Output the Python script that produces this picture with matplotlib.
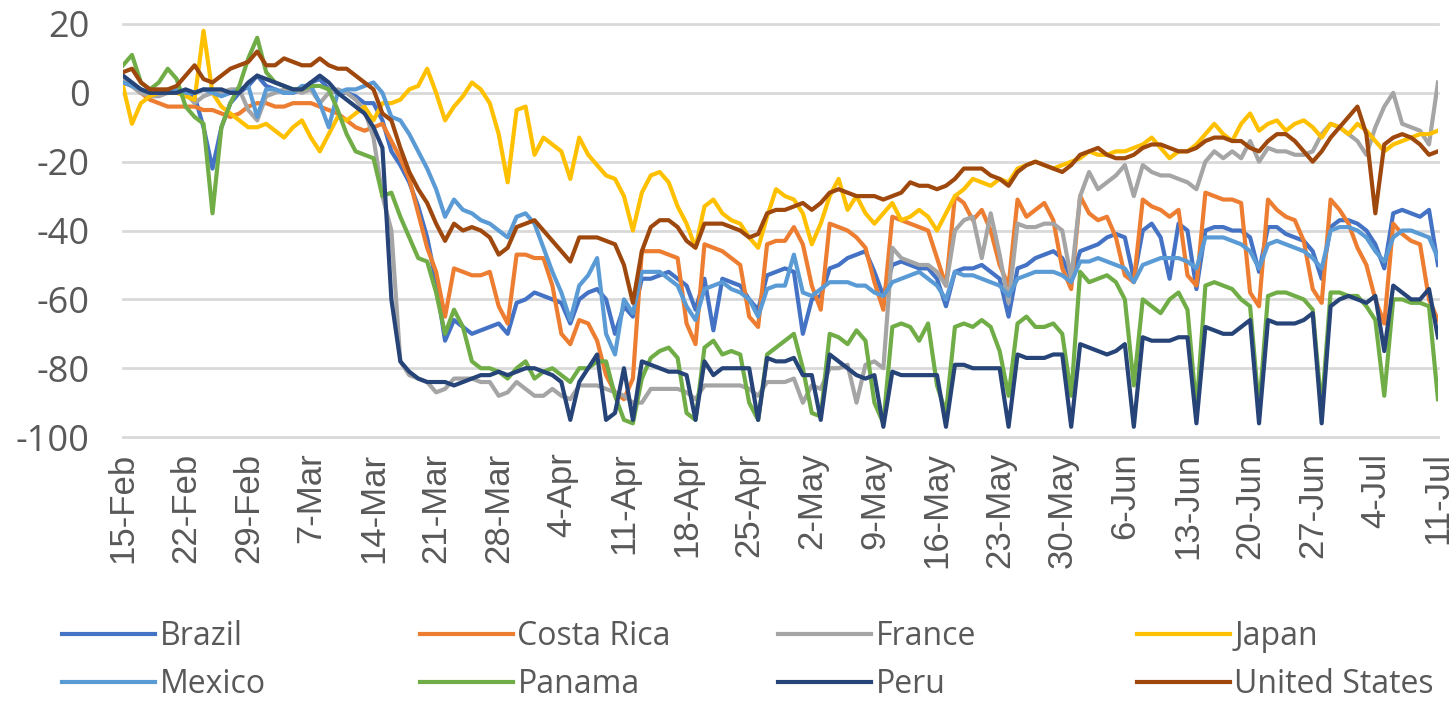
import matplotlib
matplotlib.use("Agg")
import matplotlib.pyplot as plt
from matplotlib import font_manager
from matplotlib.lines import Line2D
import pandas as pd

# narrow face for the Excel-like look, fall back if missing
avail = {f.name for f in font_manager.fontManager.ttflist}
NARROW = next(f for f in ["Liberation Sans Narrow", "Open Sans", "DejaVu Sans"] if f in avail)
REGULAR = next(f for f in ["Liberation Sans", "DejaVu Sans"] if f in avail)
plt.rcParams["font.family"] = NARROW
plt.rcParams["axes.unicode_minus"] = False

# ── data: daily values, 15-Feb .. 11-Jul 2020 (one row = one week, Sat..Fri) ──
dates = pd.date_range("2020-02-15", "2020-07-11", freq="D")

brazil = [
    4, 2, 0, 0, 0, 0, 1,
    0, -1, -10, -22, -10, -3, 0,
    2, 5, 2, 1, 0, 0, 1,
    3, 4, 1, 0, 0, -1, -3,
    -3, -8, -17, -21, -26, -33, -42,
    -55, -72, -66, -68, -70, -69, -68,
    -67, -70, -61, -60, -58, -59, -60,
    -61, -67, -60, -58, -57, -60, -70,
    -62, -65, -54, -54, -53, -52, -54,
    -56, -63, -54, -69, -54, -55, -56,
    -60, -63, -53, -52, -51, -52, -70,
    -60, -59, -51, -50, -48, -47, -46,
    -52, -59, -50, -49, -50, -51, -51,
    -54, -62, -52, -51, -51, -50, -52,
    -54, -65, -51, -50, -48, -47, -46,
    -48, -54, -46, -45, -44, -42, -41,
    -42, -54, -40, -38, -42, -54, -38,
    -40, -57, -40, -39, -39, -40, -40,
    -42, -52, -39, -39, -41, -42, -43,
    -46, -54, -39, -37, -37, -38, -40,
    -44, -51, -35, -34, -35, -36, -34,
    -50,
]
costa_rica = [
    3, 2, 0, -2, -3, -4, -4,
    -4, -4, -5, -5, -6, -7, -6,
    -4, -3, -3, -4, -4, -3, -3,
    -3, -4, -5, -6, -8, -10, -11,
    -10, -9, -14, -19, -25, -35, -45,
    -52, -65, -51, -52, -53, -53, -52,
    -62, -67, -47, -47, -48, -48, -56,
    -70, -73, -66, -67, -72, -82, -87,
    -89, -83, -46, -46, -46, -47, -48,
    -67, -73, -44, -45, -46, -48, -50,
    -65, -68, -44, -43, -43, -39, -44,
    -56, -63, -38, -39, -40, -42, -45,
    -55, -63, -36, -37, -38, -39, -40,
    -48, -56, -30, -32, -37, -34, -40,
    -50, -56, -31, -36, -34, -32, -37,
    -51, -57, -30, -35, -37, -36, -42,
    -53, -55, -31, -33, -34, -36, -34,
    -53, -56, -29, -30, -31, -31, -32,
    -58, -62, -31, -34, -36, -37, -43,
    -57, -61, -31, -34, -38, -45, -50,
    -60, -67, -38, -41, -43, -44, -60,
    -66,
]
france = [
    4, 2, 0, -1, -1, 0, 1,
    0, -3, -1, 0, 0, 1, 1,
    -5, -8, -1, 0, 1, 1, 0,
    1, -3, 0, 1, 0, -2, -5,
    -13, -30, -40, -78, -82, -83, -84,
    -87, -86, -83, -83, -83, -84, -84,
    -88, -87, -84, -86, -88, -88, -86,
    -88, -89, -85, -85, -85, -86, -87,
    -88, -90, -90, -86, -86, -86, -86,
    -87, -89, -85, -85, -85, -85, -85,
    -86, -88, -84, -84, -84, -83, -90,
    -85, -86, -80, -80, -79, -90, -79,
    -78, -80, -45, -48, -49, -50, -50,
    -52, -56, -40, -37, -36, -48, -35,
    -47, -61, -38, -39, -39, -38, -38,
    -40, -54, -30, -23, -28, -26, -24,
    -21, -30, -21, -23, -24, -24, -25,
    -26, -28, -20, -17, -19, -17, -19,
    -14, -20, -16, -17, -17, -18, -18,
    -17, -12, -9, -10, -12, -14, -18,
    -10, -4, 0, -9, -10, -11, -15,
    3,
]
japan = [
    2, -9, -3, -1, 0, 0, 0,
    -1, -2, 18, 0, -4, -6, -8,
    -10, -10, -9, -11, -13, -10, -8,
    -13, -17, -12, -7, -8, -6, -4,
    -8, -3, -3, -2, 1, 2, 7,
    0, -8, -4, -1, 3, 1, -3,
    -12, -26, -5, -4, -18, -13, -15,
    -17, -25, -13, -18, -21, -24, -25,
    -30, -40, -29, -24, -23, -26, -33,
    -38, -45, -33, -31, -35, -37, -38,
    -42, -45, -36, -28, -30, -31, -35,
    -44, -38, -30, -25, -34, -30, -35,
    -38, -35, -32, -37, -36, -34, -36,
    -40, -35, -30, -28, -25, -26, -27,
    -25, -26, -22, -21, -20, -21, -22,
    -21, -20, -19, -17, -18, -18, -17,
    -17, -16, -15, -13, -16, -19, -17,
    -17, -15, -12, -9, -12, -14, -9,
    -6, -11, -9, -8, -11, -9, -8,
    -10, -13, -9, -10, -12, -9, -11,
    -14, -17, -15, -14, -13, -12, -12,
    -11,
]
mexico = [
    3, 2, 1, 0, 0, 1, 1,
    0, 0, 1, 0, -1, 0, 1,
    2, -7, 1, 1, 0, 0, 2,
    2, -3, -10, 0, 1, 1, 2,
    3, 0, -7, -8, -12, -17, -22,
    -28, -36, -31, -34, -35, -37, -38,
    -40, -42, -36, -35, -38, -45, -52,
    -58, -66, -56, -53, -48, -70, -76,
    -60, -64, -52, -52, -52, -54, -56,
    -62, -66, -57, -56, -55, -57, -58,
    -60, -65, -57, -56, -56, -47, -58,
    -59, -57, -55, -55, -55, -56, -56,
    -58, -59, -55, -54, -53, -52, -54,
    -56, -60, -52, -53, -53, -54, -55,
    -56, -59, -54, -53, -52, -52, -52,
    -53, -55, -49, -49, -48, -49, -50,
    -51, -55, -50, -49, -48, -48, -48,
    -49, -51, -42, -42, -42, -43, -44,
    -46, -51, -44, -43, -44, -45, -46,
    -48, -51, -40, -39, -39, -40, -42,
    -46, -49, -42, -40, -40, -41, -42,
    -48,
]
panama = [
    8, 11, 3, 1, 3, 7, 4,
    -4, -7, -9, -35, -10, -3, 2,
    10, 16, 6, 3, 2, 1, 1,
    2, 2, 1, -5, -12, -17, -18,
    -19, -30, -29, -36, -42, -48, -49,
    -58, -70, -63, -68, -78, -80, -80,
    -81, -83, -80, -78, -83, -81, -80,
    -82, -84, -80, -80, -78, -78, -88,
    -95, -96, -83, -77, -75, -74, -77,
    -93, -95, -74, -72, -76, -75, -76,
    -90, -95, -76, -74, -72, -70, -80,
    -93, -94, -70, -71, -73, -69, -72,
    -90, -96, -68, -67, -68, -72, -67,
    -85, -93, -68, -67, -68, -66, -68,
    -75, -88, -67, -65, -68, -68, -67,
    -70, -88, -52, -55, -54, -53, -55,
    -60, -85, -60, -62, -64, -60, -58,
    -63, -92, -56, -55, -56, -57, -60,
    -62, -92, -59, -58, -58, -59, -60,
    -63, -92, -58, -58, -59, -59, -62,
    -66, -88, -60, -60, -61, -61, -62,
    -89,
]
peru = [
    5, 3, 1, 0, 0, 0, 0,
    1, 0, 1, 1, 1, 0, 0,
    3, 5, 4, 3, 2, 1, 1,
    3, 5, 3, 0, -2, -4, -6,
    -10, -16, -60, -78, -81, -83, -84,
    -84, -84, -85, -84, -83, -82, -82,
    -81, -82, -81, -80, -80, -81, -82,
    -84, -95, -84, -80, -76, -95, -93,
    -80, -95, -78, -79, -80, -81, -81,
    -82, -95, -78, -82, -80, -80, -80,
    -80, -95, -77, -78, -78, -77, -82,
    -82, -95, -76, -78, -80, -82, -83,
    -82, -97, -81, -82, -82, -82, -82,
    -82, -97, -79, -79, -80, -80, -80,
    -80, -97, -76, -77, -77, -77, -76,
    -76, -97, -73, -74, -75, -76, -75,
    -73, -97, -71, -72, -72, -72, -71,
    -71, -96, -68, -69, -70, -70, -68,
    -66, -96, -66, -67, -67, -67, -66,
    -64, -96, -62, -60, -59, -60, -61,
    -59, -75, -56, -58, -60, -60, -57,
    -71,
]
united_states = [
    6, 7, 3, 1, 1, 1, 2,
    5, 8, 4, 3, 5, 7, 8,
    9, 12, 8, 8, 10, 9, 8,
    8, 10, 8, 7, 7, 5, 3,
    1, -6, -8, -16, -23, -28, -32,
    -38, -43, -38, -40, -39, -40, -42,
    -47, -45, -39, -38, -37, -40, -43,
    -46, -49, -42, -42, -42, -43, -44,
    -50, -61, -46, -39, -37, -37, -39,
    -43, -45, -38, -38, -38, -39, -40,
    -42, -41, -35, -34, -34, -33, -32,
    -34, -32, -29, -28, -29, -30, -30,
    -30, -31, -30, -29, -26, -27, -27,
    -28, -27, -25, -22, -22, -22, -24,
    -25, -27, -23, -21, -20, -21, -22,
    -23, -21, -18, -17, -16, -18, -19,
    -19, -18, -16, -15, -15, -16, -17,
    -17, -16, -14, -13, -13, -14, -14,
    -16, -17, -14, -12, -12, -14, -17,
    -20, -17, -13, -10, -7, -4, -12,
    -35, -15, -13, -12, -13, -15, -18,
    -17,
]

series = [
    ("Brazil", brazil, "#4472C4"),
    ("Costa Rica", costa_rica, "#ED7D31"),
    ("France", france, "#A5A5A5"),
    ("Japan", japan, "#FFC000"),
    ("Mexico", mexico, "#5B9BD5"),
    ("Panama", panama, "#70AD47"),
    ("Peru", peru, "#264478"),
    ("United States", united_states, "#9E480E"),
]
for name, vals, _ in series:
    assert len(vals) == len(dates), (name, len(vals))

# ── figure ────────────────────────────────────────────────────────────────────
fig = plt.figure(figsize=(14.56, 7.05), dpi=100)
ax = fig.add_axes([0.0845, 0.380, 0.9031, 0.586])

x = list(range(len(dates)))
for name, vals, color in series:
    ax.plot(x, vals, color=color, lw=3.0, solid_joinstyle="round", label=name)

ax.set_xlim(0, len(dates) - 1)
ax.set_ylim(-100, 20)
ax.set_yticks(range(-100, 21, 20))
ax.set_xticks(x[::7])
ax.set_xticklabels([f"{d.day}-{d:%b}" for d in dates[::7]],
                   rotation=90, fontsize=25, family=REGULAR, color="#595959")
ax.tick_params(axis="y", length=0, pad=24, labelsize=26, labelcolor="#595959")
ax.tick_params(axis="x", length=0, pad=11)

ax.grid(axis="y", color="#D9D9D9", lw=2)
for gl in ax.get_ygridlines():
    gl.set_clip_on(False)
ax.set_axisbelow(True)
for s in ax.spines.values():
    s.set_visible(False)

# legend: 4 columns of 2 entries, evenly spaced like Excel
cols = [series[0::4], series[1::4], series[2::4], series[3::4]]
col_x = [62, 420, 778, 1137]
for grp, cx in zip(cols, col_x):
    handles = [Line2D([], [], color=c, lw=3.0) for _, _, c in grp]
    fig.legend(handles, [n for n, _, _ in grp], loc="upper left",
               bbox_to_anchor=(cx / 1456, 1 - 620 / 705),
               frameon=False, fontsize=23, handlelength=2.9, handletextpad=0.15,
               labelspacing=0.47, borderpad=0, borderaxespad=0,
               labelcolor="#595959")

fig.savefig("out.png", dpi=100)
